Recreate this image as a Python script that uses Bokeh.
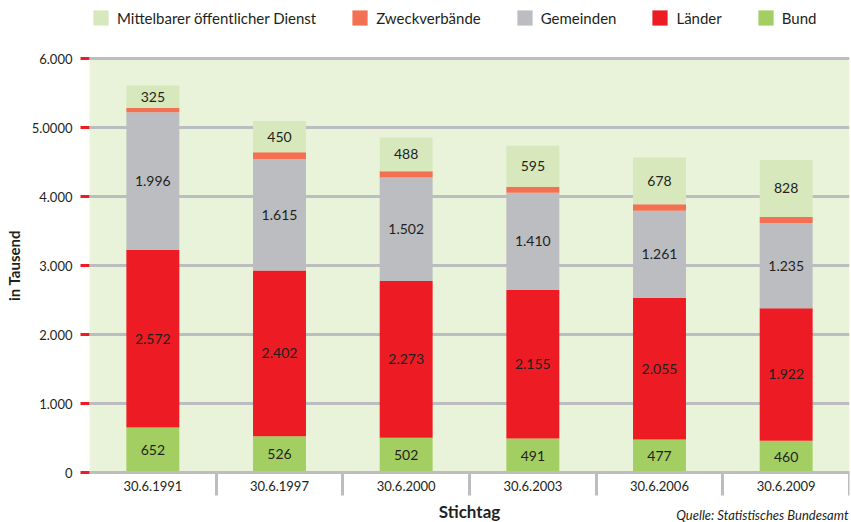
from bokeh.plotting import figure
from bokeh.models import Range1d, FixedTicker, Legend, LegendItem, ColumnDataSource, Label, LinearAxis
from bokeh.core.properties import value
from bokeh.embed import file_html
from bokeh.resources import INLINE

# ---- data (in thousands) ----
stichtage = ["30.6.1991", "30.6.1997", "30.6.2000", "30.6.2003", "30.6.2006", "30.6.2009"]
bund = [652, 526, 502, 491, 477, 460]
laender = [2572, 2402, 2273, 2155, 2055, 1922]
gemeinden = [1996, 1615, 1502, 1410, 1261, 1235]
zweckverbaende = [65, 100, 90, 85, 95, 85]
mittelbar = [325, 450, 488, 595, 678, 828]

series_names = ["Bund", "Länder", "Gemeinden", "Zweckverbände", "Mittelbarer öffentlicher Dienst"]
series_values = [bund, laender, gemeinden, zweckverbaende, mittelbar]
series_colors = ["#a3cf62", "#ed1c24", "#bcbdc1", "#f37053", "#d8e8bd"]
series_labelled = [True, True, True, False, True]

y_ticks = [0, 1000, 2000, 3000, 4000, 5000, 6000]
y_tick_labels = ["0", "1.000", "2.000", "3.000", "4.000", "5.0000", "6.000"]

FONT = "Lato"
TXT = "#231f20"
GRID = "#bcbdc1"
BG = "#e8f3da"

n = len(stichtage)
x_pos = [i + 0.5 for i in range(n)]
x_bounds = list(range(1, n + 1))

# frame spans page y 8..522; value 0 at y=472, 6000 at y=58
k = 414 / 6000.0
y_lo = -(522 - 472) / k
y_hi = 6000 + (58 - 8) / k

p = figure(width=851, height=522, output_backend="svg", toolbar_location=None,
           x_range=Range1d(0, n), y_range=Range1d(y_lo, y_hi),
           x_axis_location=None,
           min_border_left=89, min_border_right=2, min_border_top=8, min_border_bottom=0)
p.background_fill_color = "white"
p.border_fill_color = "white"
p.outline_line_color = None

# plot-area background
p.quad(left=[0], right=[n], bottom=[y_ticks[0]], top=[y_ticks[-1]],
       fill_color=BG, line_color=None, level="image")

# stacked bars
bottoms = [0] * n
renderers = []
lab_x, lab_y, lab_t = [], [], []
for name, vals, col, show in zip(series_names, series_values, series_colors, series_labelled):
    tops = [b + v for b, v in zip(bottoms, vals)]
    src = ColumnDataSource(dict(x=x_pos, bottom=bottoms, top=tops))
    r = p.vbar(x="x", bottom="bottom", top="top", width=0.418, source=src,
               fill_color=col, line_color=None)
    renderers.append((name, r))
    if show:
        for xx, b, v in zip(x_pos, bottoms, vals):
            lab_x.append(xx)
            lab_y.append(b + v / 2)
            lab_t.append(f"{v:,}".replace(",", "."))
    bottoms = tops

lsrc = ColumnDataSource(dict(x=lab_x, y=lab_y, t=lab_t))
p.text(x="x", y="y", text="t", source=lsrc, text_align="center", text_baseline="middle",
       text_font=value(FONT), text_font_size=value("14px"), text_color=TXT)

# grid
p.xgrid.visible = False
p.ygrid.ticker = FixedTicker(ticks=y_ticks)
p.ygrid.grid_line_color = GRID
p.ygrid.grid_line_width = 3

# y axis
ya = p.yaxis[0]
ya.ticker = FixedTicker(ticks=y_ticks)
ya.major_label_overrides = {t: l for t, l in zip(y_ticks, y_tick_labels)}
ya.axis_line_color = None
ya.major_tick_line_color = "#ed1c24"
ya.major_tick_line_width = 3
ya.major_tick_out = 9
ya.major_tick_in = 0
ya.minor_tick_line_color = None
ya.major_label_standoff = 8
ya.major_label_text_font = FONT
ya.major_label_text_font_size = "13px"
ya.major_label_text_color = TXT
ya.axis_label = "in Tausend"
ya.axis_label_text_font = FONT
ya.axis_label_text_font_size = "15px"
ya.axis_label_text_font_style = "bold"
ya.axis_label_text_color = TXT
ya.axis_label_standoff = 6

# x axis fixed at value 0
xa = LinearAxis(fixed_location=0)
xa.ticker = FixedTicker(ticks=x_pos, minor_ticks=x_bounds)
xa.major_label_overrides = {t: l for t, l in zip(x_pos, stichtage)}
xa.axis_line_color = GRID
xa.axis_line_width = 3
xa.major_tick_line_color = None
xa.major_tick_out = 0
xa.major_tick_in = 0
xa.minor_tick_line_color = GRID
xa.minor_tick_line_width = 3
xa.minor_tick_out = 23
xa.minor_tick_in = 0
xa.major_label_standoff = -15
xa.major_label_text_font = FONT
xa.major_label_text_font_size = "13px"
xa.major_label_text_color = TXT
xa.axis_label = "Stichtag"
xa.axis_label_text_font = FONT
xa.axis_label_text_font_size = "17px"
xa.axis_label_text_font_style = "bold"
xa.axis_label_text_color = TXT
xa.axis_label_standoff = 7
p.add_layout(xa, "below")

# source note
p.add_layout(Label(x=759, y=8, x_units="screen", y_units="screen",
                   text="Quelle: Statistisches Bundesamt", text_align="right",
                   text_baseline="middle", text_font=FONT, text_font_size="13px",
                   text_font_style="italic", text_color=TXT))

# legend
rmap = dict(renderers)
legend_order = ["Mittelbarer öffentlicher Dienst", "Zweckverbände", "Gemeinden", "Länder", "Bund"]
legend = Legend(items=[LegendItem(label=nm, renderers=[rmap[nm]]) for nm in legend_order],
                orientation="horizontal", location=(2, 495),
                glyph_width=19, glyph_height=19, label_height=19, label_standoff=7, spacing=34,
                padding=0, margin=0, label_text_font=FONT, label_text_font_size="15px",
                label_text_color=TXT, background_fill_alpha=0, border_line_color=None)
p.add_layout(legend, "center")

open("out.html", "w").write(file_html(p, INLINE))
